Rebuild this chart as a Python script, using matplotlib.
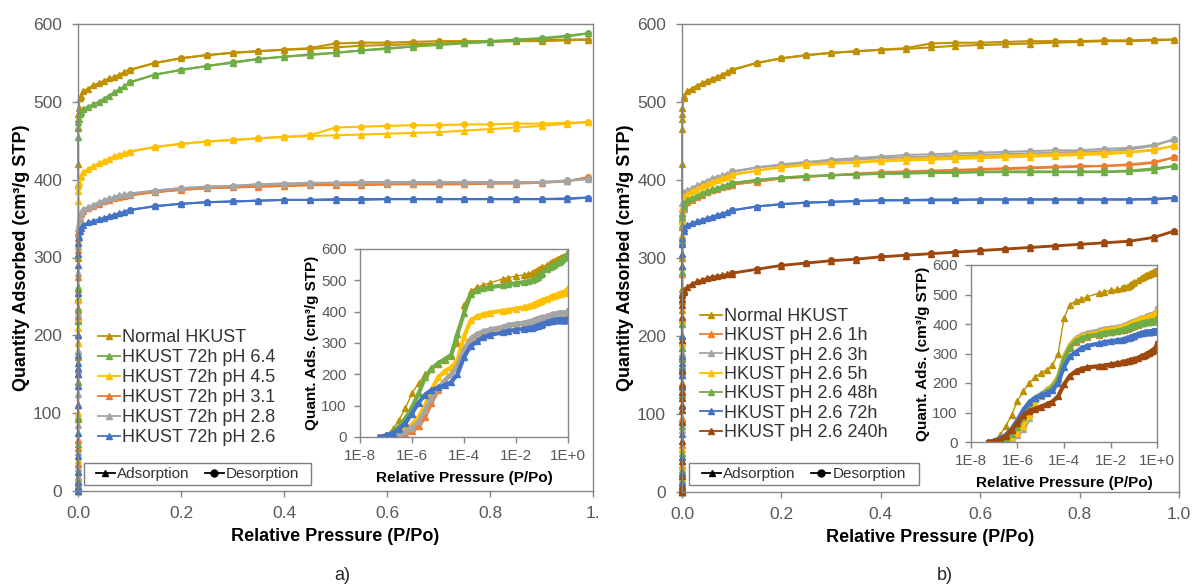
import matplotlib
matplotlib.use('Agg')
import matplotlib.pyplot as plt
from matplotlib.lines import Line2D
from matplotlib.patches import Rectangle

plt.rcParams['font.family'] = ['Liberation Sans', 'DejaVu Sans']

# relative pressures (P/Po): low-pressure adsorption, high-pressure adsorption, desorption
P_LOW = [5.6e-8, 1e-7, 1.8e-7, 3.2e-7, 5.6e-7, 1e-6, 1.8e-6, 3.2e-6, 5.6e-6, 1e-5,
         1.8e-5, 3.2e-5, 5.6e-5, 1e-4, 1.8e-4, 3.2e-4, 5.6e-4, 1e-3, 3.2e-3]
P_HIGH = [0.005, 0.01, 0.02, 0.03, 0.04, 0.05, 0.06, 0.07, 0.08, 0.09, 0.1, 0.15, 0.2,
          0.25, 0.3, 0.35, 0.4, 0.45, 0.5, 0.55, 0.6, 0.65, 0.7, 0.75, 0.8, 0.85, 0.9, 0.95, 0.99]
P_DES = [0.99, 0.95, 0.9, 0.85, 0.8, 0.75, 0.7, 0.65, 0.6, 0.55, 0.5, 0.45, 0.4, 0.35,
         0.3, 0.25, 0.2, 0.15, 0.1]

# quantity adsorbed (cm3/g STP)
NORMAL_LOW = [0, 5, 25, 55, 92, 140, 172, 200, 220, 233, 245, 260, 300, 420, 466, 478, 485, 492, 505]
NORMAL_HIGH = [508, 514, 517, 521, 524, 527, 530, 532, 535, 538, 541, 550, 556, 560, 563, 565, 567,
               568, 570, 572, 573, 574, 575, 576, 577, 578, 578, 579, 580]
NORMAL_DES = [580, 580, 579, 579, 578, 578, 578, 577, 576, 576, 575, 569, 567, 565, 563, 560, 556, 550, 541]

PH64_LOW = [0, 5, 15, 35, 60, 95, 140, 190, 218, 235, 248, 262, 330, 395, 455, 468, 474, 478, 484]
PH64_HIGH = [487, 491, 494, 497, 500, 504, 508, 512, 516, 520, 525, 535, 541, 546, 550, 555, 558,
             560, 563, 566, 568, 571, 573, 575, 577, 579, 581, 584, 588]
PH64_DES = [588, 585, 582, 580, 578, 576, 574, 571, 569, 566, 563, 561, 558, 555, 551, 546, 541, 535, 525]

PH45_LOW = [0, 2, 6, 14, 25, 40, 65, 100, 150, 190, 210, 222, 245, 320, 372, 385, 392, 397, 403]
PH45_HIGH = [405, 410, 414, 418, 421, 424, 427, 430, 432, 434, 436, 442, 446, 449, 451, 453, 455,
             456, 457, 458, 459, 460, 461, 463, 465, 467, 469, 472, 474]
PH45_DES = [474, 473, 472, 472, 471, 471, 470, 470, 469, 468, 467, 457, 455, 453, 451, 449, 446, 442, 436]

PH31_LOW = [0, 1, 3, 6, 10, 18, 35, 65, 110, 150, 180, 200, 225, 275, 310, 325, 333, 340, 350]
PH31_HIGH = [356, 360, 363, 366, 369, 372, 374, 376, 378, 379, 380, 384, 387, 389, 390, 391, 392,
             393, 393, 393, 394, 394, 394, 394, 395, 395, 396, 398, 403]
PH31_DES = [403, 398, 396, 396, 395, 395, 395, 395, 394, 394, 394, 393, 392, 391, 390, 389, 387, 384, 380]

PH28_LOW = [0, 2, 5, 10, 18, 30, 50, 85, 125, 155, 180, 200, 228, 280, 315, 330, 338, 344, 352]
PH28_HIGH = [358, 362, 365, 368, 371, 374, 376, 378, 380, 381, 382, 386, 389, 391, 392, 394, 395,
             395, 396, 396, 396, 396, 396, 396, 396, 396, 397, 398, 401]
PH28_DES = [401, 399, 397, 397, 397, 397, 397, 397, 397, 397, 396, 396, 395, 394, 392, 391, 389, 386, 382]

PH26_LOW = [0, 5, 12, 25, 45, 75, 110, 135, 150, 158, 165, 175, 200, 255, 290, 305, 318, 326, 334]
PH26_HIGH = [338, 342, 345, 347, 349, 351, 353, 355, 357, 359, 361, 366, 369, 371, 372, 373, 374,
             374, 374, 374, 375, 375, 375, 375, 375, 375, 375, 375, 377]
PH26_DES = [377, 376, 375, 375, 375, 375, 375, 375, 375, 375, 375, 374, 374, 373, 372, 371, 369, 366, 361]

H1_LOW = [0, 2, 5, 10, 20, 35, 60, 95, 130, 155, 170, 185, 215, 280, 320, 340, 350, 356, 363]
H1_HIGH = [368, 372, 375, 378, 381, 384, 387, 389, 391, 392, 394, 398, 402, 404, 406, 408, 409,
           410, 411, 412, 413, 414, 415, 416, 417, 418, 419, 422, 429]
H1_DES = [429, 423, 420, 418, 418, 417, 416, 415, 414, 413, 412, 411, 410, 408, 406, 404, 402, 398, 394]

H3_LOW = [0, 1, 3, 7, 14, 25, 45, 80, 125, 160, 178, 192, 222, 290, 330, 352, 363, 370, 378]
H3_HIGH = [384, 387, 390, 393, 396, 399, 402, 404, 406, 408, 410, 416, 419, 422, 424, 426, 428,
           429, 430, 431, 432, 433, 434, 435, 436, 437, 439, 444, 452]
H3_DES = [452, 445, 441, 440, 438, 438, 437, 436, 435, 434, 433, 432, 430, 428, 426, 423, 420, 416, 411]

H5_LOW = [0, 1, 4, 9, 18, 32, 55, 90, 130, 158, 175, 190, 220, 288, 328, 348, 358, 364, 372]
H5_HIGH = [378, 382, 386, 389, 392, 395, 398, 400, 402, 404, 406, 412, 416, 419, 421, 422, 424,
           425, 426, 427, 428, 429, 430, 431, 432, 433, 435, 438, 444]
H5_DES = [444, 439, 436, 435, 434, 433, 432, 431, 430, 429, 428, 427, 425, 423, 422, 420, 417, 412, 407]

H48_LOW = [0, 2, 6, 14, 28, 50, 85, 125, 150, 162, 172, 185, 215, 282, 322, 342, 352, 358, 365]
H48_HIGH = [370, 374, 377, 380, 383, 386, 388, 390, 392, 394, 396, 400, 403, 405, 406, 407, 408,
            408, 409, 409, 410, 410, 410, 410, 410, 410, 411, 413, 418]
H48_DES = [418, 415, 412, 411, 411, 411, 411, 411, 410, 410, 410, 409, 408, 407, 406, 405, 403, 400, 396]

H240_LOW = [0, 2, 8, 20, 40, 65, 90, 105, 112, 120, 128, 137, 155, 195, 225, 240, 248, 253, 257]
H240_HIGH = [259, 263, 267, 270, 272, 274, 276, 277, 278, 279, 280, 285, 290, 293, 296, 298, 301,
             303, 305, 307, 309, 311, 313, 315, 317, 319, 321, 326, 334]
H240_DES = [335, 327, 322, 320, 318, 316, 314, 312, 310, 308, 306, 304, 302, 299, 297, 294, 291, 286, 281]

GOLD, GREEN, YELLOW = '#BF9000', '#70AD47', '#FFC000'
ORANGE, GRAY, BLUE, BROWN = '#ED7D31', '#A5A5A5', '#4472C4', '#9E480E'

LEFT_SERIES = [
    ('Normal HKUST', GOLD, NORMAL_LOW, NORMAL_HIGH, NORMAL_DES),
    ('HKUST 72h pH 6.4', GREEN, PH64_LOW, PH64_HIGH, PH64_DES),
    ('HKUST 72h pH 4.5', YELLOW, PH45_LOW, PH45_HIGH, PH45_DES),
    ('HKUST 72h pH 3.1', ORANGE, PH31_LOW, PH31_HIGH, PH31_DES),
    ('HKUST 72h pH 2.8', GRAY, PH28_LOW, PH28_HIGH, PH28_DES),
    ('HKUST 72h pH 2.6', BLUE, PH26_LOW, PH26_HIGH, PH26_DES),
]
RIGHT_SERIES = [
    ('Normal HKUST', GOLD, NORMAL_LOW, NORMAL_HIGH, NORMAL_DES),
    ('HKUST pH 2.6 1h', ORANGE, H1_LOW, H1_HIGH, H1_DES),
    ('HKUST pH 2.6 3h', GRAY, H3_LOW, H3_HIGH, H3_DES),
    ('HKUST pH 2.6 5h', YELLOW, H5_LOW, H5_HIGH, H5_DES),
    ('HKUST pH 2.6 48h', GREEN, H48_LOW, H48_HIGH, H48_DES),
    ('HKUST pH 2.6 72h', BLUE, PH26_LOW, PH26_HIGH, PH26_DES),
    ('HKUST pH 2.6 240h', BROWN, H240_LOW, H240_HIGH, H240_DES),
]

W, H = 1194, 587
SPINE = '#868686'
TICK = '#595959'


def fig_rect(x0, y0, x1, y1):
    # pixel box (top-left origin) -> figure fraction rect
    return [x0 / W, 1 - y1 / H, (x1 - x0) / W, (y1 - y0) / H]


def style_axes(ax, size, xpad, ypad):
    for s in ax.spines.values():
        s.set_color(SPINE)
        s.set_linewidth(1.0)
    ax.tick_params(direction='out', length=4, width=1, color=SPINE,
                   labelcolor=TICK, labelsize=size)
    ax.tick_params(axis='x', pad=xpad)
    ax.tick_params(axis='y', pad=ypad)


def draw_panel(fig, main_rect, inset_rect, series, last_xlabel, legend_xy, spacing, box):
    ax = fig.add_axes(fig_rect(*main_rect))
    for label, col, low, high, des in series:
        ax.plot(P_LOW + P_HIGH, low + high, color=col, lw=1.5, marker='^', ms=4.5,
                mec=col, clip_on=False)
        ax.plot(P_DES, des, color=col, lw=1.5, marker='o', ms=4, mec=col, clip_on=False)
    ax.set_xlim(0, 1)
    ax.set_ylim(0, 600)
    ax.set_xticks([0, 0.2, 0.4, 0.6, 0.8, 1.0])
    ax.set_xticklabels(['0.0', '0.2', '0.4', '0.6', '0.8', last_xlabel])
    ax.set_yticks(range(0, 601, 100))
    style_axes(ax, 12.5, 6.5, 7.5)
    ax.set_xlabel('Relative Pressure (P/Po)', fontsize=13, fontweight='bold', labelpad=5)
    ax.set_ylabel('Quantity Adsorbed (cm³/g STP)', fontsize=13, fontweight='bold', labelpad=2)

    handles = [Line2D([], [], color=c, lw=1.3, marker='^', ms=4) for _, c, *_ in series]
    fig.legend(handles, [s[0] for s in series], loc='upper left',
               bbox_to_anchor=(legend_xy[0] / W, 1 - legend_xy[1] / H),
               bbox_transform=fig.transFigure, frameon=False, fontsize=13,
               borderpad=0, borderaxespad=0, handlelength=1.2, handletextpad=0.15,
               labelspacing=spacing, labelcolor='#333333')

    # adsorption / desorption key
    bx0, by0, bx1, by1 = box
    fig.patches.append(Rectangle((bx0 / W, 1 - by1 / H), (bx1 - bx0) / W, (by1 - by0) / H,
                                 transform=fig.transFigure, fill=False, ec='#7f7f7f', lw=1))
    key = [Line2D([], [], color='black', lw=1.3, marker='^', ms=5),
           Line2D([], [], color='black', lw=1.3, marker='o', ms=5)]
    fig.legend(key, ['Adsorption', 'Desorption'], loc='center', ncol=2,
               bbox_to_anchor=((bx0 + bx1) / 2 / W, 1 - (by0 + by1) / 2 / H),
               bbox_transform=fig.transFigure, frameon=False, fontsize=11,
               borderpad=0, borderaxespad=0, handlelength=1.25, handletextpad=0.15,
               columnspacing=1.0, labelcolor='#333333')

    ins = fig.add_axes(fig_rect(*inset_rect))
    ins.set_facecolor('white')
    for label, col, low, high, des in series:
        if label == 'Normal HKUST':
            ins.plot(P_LOW + P_HIGH, low + high, color=col, lw=1.0, marker='^', ms=4, mec=col)
        else:
            ins.plot(P_LOW + P_HIGH, low + high, color=col, lw=3.0, marker='^', ms=4, mec=col)
    ins.set_xscale('log')
    ins.set_xlim(1e-8, 1)
    ins.set_ylim(0, 600)
    ins.set_xticks([1e-8, 1e-6, 1e-4, 1e-2, 1])
    ins.set_xticklabels(['1E-8', '1E-6', '1E-4', '1E-2', '1E+0'])
    ins.minorticks_off()
    ins.set_yticks(range(0, 601, 100))
    style_axes(ins, 11, 4.5, 5.5)
    ins.set_xlabel('Relative Pressure (P/Po)', fontsize=11, fontweight='bold', labelpad=6)
    ins.set_ylabel('Quant. Ads. (cm³/g STP)', fontsize=11, fontweight='bold', labelpad=2)
    return ax


fig = plt.figure(figsize=(W / 100, H / 100), dpi=100)

draw_panel(fig, (78, 24, 593, 491), (360, 249, 568, 437), LEFT_SERIES, '1.',
           (98, 329), 0.17, (84, 463, 311, 485))
draw_panel(fig, (682, 24, 1179, 492), (971, 265, 1157, 442), RIGHT_SERIES, '1.0',
           (700, 308), 0.13, (689, 463, 919, 485))

fig.text(342 / W, 1 - 576 / H, 'a)', ha='center', va='center', fontsize=13, color='#262626')
fig.text(945 / W, 1 - 576 / H, 'b)', ha='center', va='center', fontsize=13, color='#262626')

fig.savefig('out.png', dpi=100)
